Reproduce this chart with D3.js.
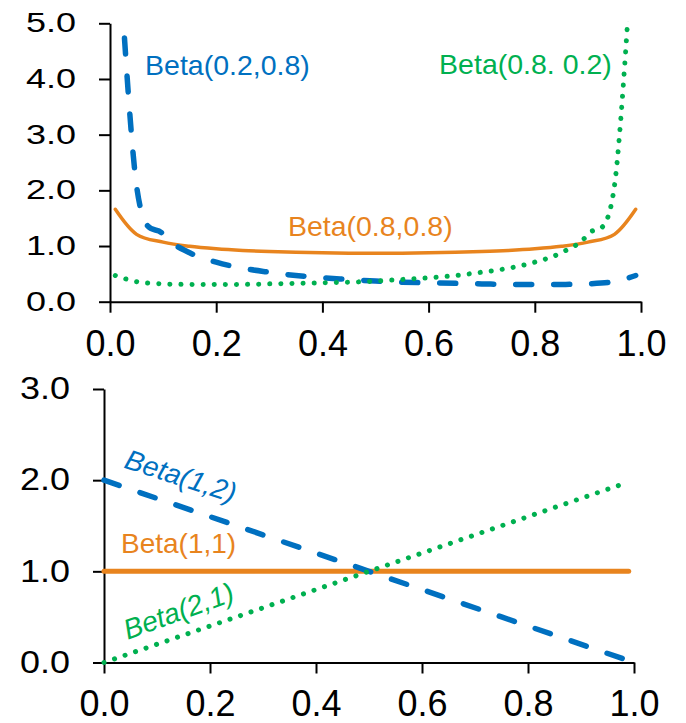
<!DOCTYPE html>
<html>
<head>
<meta charset="utf-8">
<script src="https://cdn.jsdelivr.net/npm/d3@7"></script>
<style>
  body { margin: 0; background: #fff; }
  svg { display: block; font-family: "Liberation Sans", Arial, sans-serif; }
  .axis path, .axis line { stroke: #000; stroke-width: 2; }
  .axis text { fill: #000; font-size: 36px; }
</style>
</head>
<body>
<svg id="chart" width="686" height="723"></svg>
<script>
// top panel: sample points and densities
const xTop = [0.01, 0.05, 0.10, 0.15, 0.20, 0.25, 0.30, 0.35, 0.40, 0.45, 0.50,
              0.55, 0.60, 0.65, 0.70, 0.75, 0.80, 0.85, 0.90, 0.95, 0.99];
const beta02_08 = [7.46, 2.08, 1.21, 0.88, 0.71, 0.60, 0.53, 0.47, 0.43, 0.40, 0.37,
                   0.35, 0.34, 0.33, 0.32, 0.31, 0.31, 0.31, 0.32, 0.36, 0.47];
const beta08_02 = [0.47, 0.36, 0.32, 0.31, 0.31, 0.31, 0.32, 0.33, 0.34, 0.35, 0.37,
                   0.40, 0.43, 0.47, 0.53, 0.60, 0.71, 0.88, 1.21, 2.08, 7.46];
const beta08_08 = [1.66, 1.21, 1.07, 0.995, 0.95, 0.92, 0.90, 0.886, 0.877, 0.872, 0.87,
                   0.872, 0.877, 0.886, 0.90, 0.92, 0.95, 0.995, 1.07, 1.21, 1.66];

// bottom panel
const xBottom = [0.0, 0.25, 0.50, 0.75, 0.99];
const beta1_2 = [2.0, 1.5, 1.0, 0.5, 0.02];
const beta1_1 = [1.0, 1.0, 1.0, 1.0, 1.0];
const beta2_1 = [0.0, 0.5, 1.0, 1.5, 1.98];

const xTicks = [0, 0.2, 0.4, 0.6, 0.8, 1.0];
const yTicksTop = [0, 1, 2, 3, 4, 5];
const yTicksBottom = [0, 1, 2, 3];

const BLUE = "#0070c0", ORANGE = "#e8841e", GREEN = "#00b050";

const svg = d3.select("#chart");

const styles = {
  blue:   { color: BLUE,   width: 5.5, dash: "16,22" },
  orange: { color: ORANGE, width: 3.5, dash: null },
  green:  { color: GREEN,  width: 5,   dash: "0.1,11" }
};

function panel(opt) {
  const x = d3.scaleLinear().domain([0, 1]).range(opt.xRange);
  const y = d3.scaleLinear().domain([0, opt.yMax]).range(opt.yRange);
  const g = svg.append("g");

  const clipId = "clip" + opt.id;
  g.append("clipPath").attr("id", clipId)
    .append("rect")
    .attr("x", 0).attr("y", y(opt.yMax) - 2)
    .attr("width", 686).attr("height", y(0) - y(opt.yMax) + 20);

  // axes
  const yAxis = g.append("g").attr("class", "axis")
    .attr("transform", `translate(${x(0)},0)`)
    .call(d3.axisLeft(y).tickValues(opt.yTicks).tickFormat(d3.format(".1f"))
      .tickSize(11).tickSizeOuter(0).tickPadding(23));
  yAxis.selectAll("text").attr("transform", `scale(1,${opt.yLabelSquash})`);

  g.append("g").attr("class", "axis")
    .attr("transform", `translate(0,${y(0)})`)
    .call(d3.axisBottom(x).tickValues(xTicks).tickFormat(d3.format(".1f"))
      .tickSize(11).tickSizeOuter(0).tickPadding(opt.xPad));

  const lines = g.append("g").attr("clip-path", `url(#${clipId})`);
  opt.series.forEach(s => {
    const st = styles[s.style];
    const line = d3.line()
      .x((d, i) => x(opt.xs[i]))
      .y(d => y(d))
      .curve(opt.smooth ? d3.curveCatmullRom.alpha(0) : d3.curveLinear);
    lines.append("path")
      .datum(s.values)
      .attr("d", line)
      .attr("fill", "none")
      .attr("stroke", st.color)
      .attr("stroke-width", s.width || st.width)
      .attr("stroke-linecap", "round")
      .attr("stroke-linejoin", "round")
      .attr("stroke-dasharray", st.dash);
  });

  opt.labels.forEach(l => {
    g.append("text")
      .attr("transform", `translate(${x(l.x)},${y(l.y)}) rotate(${l.rot || 0})`)
      .attr("text-anchor", l.anchor || "start")
      .attr("font-size", l.size)
      .attr("font-style", l.italic ? "italic" : "normal")
      .attr("fill", styles[l.style].color)
      .text(l.text);
  });
}

panel({
  id: "top", xs: xTop, yMax: 5, yTicks: yTicksTop,
  xRange: [110, 641], yRange: [301.7, 23.3],
  yLabelSquash: 0.75, xPad: 18, smooth: true,
  series: [
    { values: beta08_08, style: "orange" },
    { values: beta02_08, style: "blue" },
    { values: beta08_02, style: "green" }
  ],
  labels: [
    { text: "Beta(0.2,0.8)", x: 0.066, y: 4.07, style: "blue", size: 28.5 },
    { text: "Beta(0.8. 0.2)", x: 0.945, y: 4.09, style: "green", size: 28.5, anchor: "end" },
    { text: "Beta(0.8,0.8)", x: 0.335, y: 1.18, style: "orange", size: 28.5 }
  ]
});

panel({
  id: "bottom", xs: xBottom, yMax: 3, yTicks: yTicksBottom,
  xRange: [104, 634], yRange: [662.5, 389],
  yLabelSquash: 0.85, xPad: 17, smooth: false,
  series: [
    { values: beta1_1, style: "orange", width: 5 },
    { values: beta1_2, style: "blue" },
    { values: beta2_1, style: "green" }
  ],
  labels: [
    { text: "Beta(1,2)", x: 0.036, y: 2.14, style: "blue", size: 28, italic: true, rot: 18 },
    { text: "Beta(1,1)", x: 0.032, y: 1.2, style: "orange", size: 28 },
    { text: "Beta(2,1)", x: 0.045, y: 0.25, style: "green", size: 28, italic: true, rot: -20 }
  ]
});
</script>
</body>
</html>
